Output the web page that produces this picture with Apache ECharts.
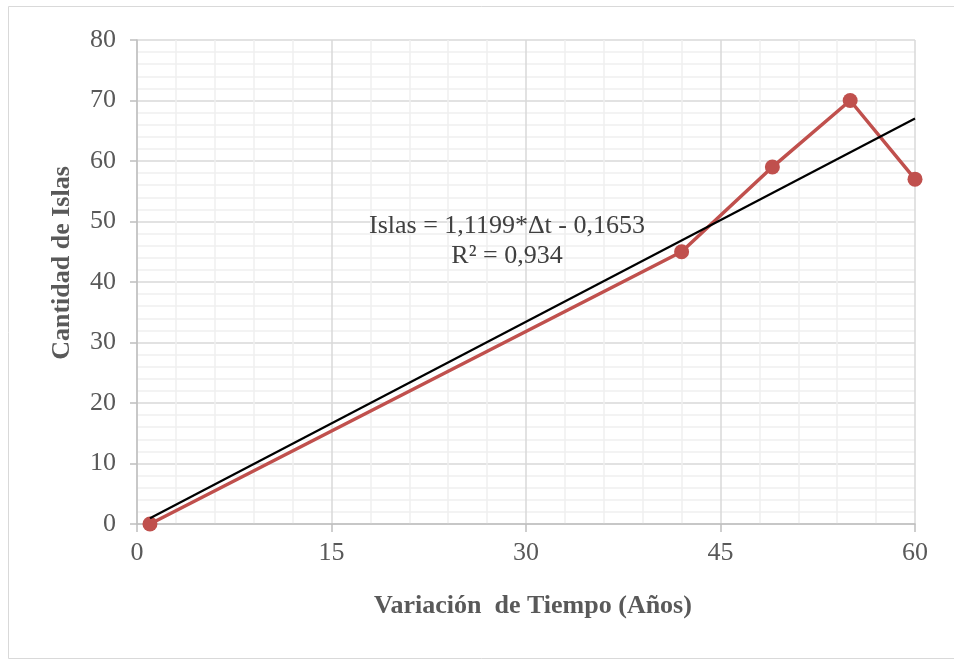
<!DOCTYPE html>
<html>
<head>
<meta charset="utf-8">
<script src="https://cdn.jsdelivr.net/npm/echarts@6/dist/echarts.min.js"></script>
<style>
html,body{margin:0;padding:0;background:#fff;}
#c{width:954px;height:663px;}
</style>
</head>
<body>
<div id="c"></div>
<script>
// Data
var years = [1, 42, 49, 55, 60];
var islands = [0, 45, 59, 70, 57];
var trendX = [1, 60];
var trendY = [0.95, 67.03];
var xTicks = [0, 15, 30, 45, 60];
var yTicks = [0, 10, 20, 30, 40, 50, 60, 70, 80];
var xTitle = 'Variación  de Tiempo (Años)';
var yTitle = 'Cantidad de Islas';
var eqLine1 = 'Islas = 1,1199*Δt - 0,1653';
var eqLine2 = 'R² = 0,934';

var font = '"Liberation Serif","Times New Roman",serif';
var chart = echarts.init(document.getElementById('c'));
var mainPts = years.map(function(x, i){ return [x, islands[i]]; });
var trendPts = trendX.map(function(x, i){ return [x, trendY[i]]; });

chart.setOption({
  animation: false,
  backgroundColor: '#fff',
  grid: {left: 137, right: 39, top: 40, bottom: 139, containLabel: false},
  xAxis: {
    type: 'value', min: xTicks[0], max: xTicks[xTicks.length-1], interval: 15,
    axisLine: {show: true, lineStyle: {color: '#bfbfbf', width: 1.5}},
    axisTick: {show: true, length: 8, lineStyle: {color: '#bfbfbf', width: 1.5}},
    axisLabel: {fontFamily: font, fontSize: 26, color: '#595959', margin: 16},
    splitLine: {show: true, lineStyle: {color: '#d9d9d9', width: 1.5}},
    minorTick: {show: false, splitNumber: 5},
    minorSplitLine: {show: true, lineStyle: {color: '#f0f0f0', width: 1.5}}
  },
  yAxis: {
    type: 'value', min: yTicks[0], max: yTicks[yTicks.length-1], interval: 10,
    axisLine: {show: true, lineStyle: {color: '#bfbfbf', width: 1.5}},
    axisTick: {show: true, length: 7, lineStyle: {color: '#bfbfbf', width: 1.5}},
    axisLabel: {fontFamily: font, fontSize: 26, color: '#595959', margin: 21},
    splitLine: {show: true, lineStyle: {color: '#d9d9d9', width: 1.5}},
    minorTick: {show: false, splitNumber: 5},
    minorSplitLine: {show: true, lineStyle: {color: '#f0f0f0', width: 1.5}}
  },
  series: [
    {
      type: 'line', data: mainPts, symbol: 'circle', symbolSize: 15,
      lineStyle: {color: '#C0504D', width: 3.5},
      itemStyle: {color: '#C0504D'}, z: 3
    },
    {
      type: 'line', data: trendPts, symbol: 'none',
      lineStyle: {color: '#000000', width: 2.2}, z: 4
    }
  ],
  graphic: [
    {type: 'rect', shape: {x: 8.5, y: 6.5, width: 960, height: 652}, style: {fill: 'none', stroke: '#d9d9d9', lineWidth: 1}, silent: true},
    {type: 'text', style: {text: eqLine1, x: 507, y: 226, textAlign: 'center', textVerticalAlign: 'middle', font: '26px ' + font, fill: '#404040'}, z: 10},
    {type: 'text', style: {text: eqLine2, x: 507, y: 256, textAlign: 'center', textVerticalAlign: 'middle', font: '26px ' + font, fill: '#404040'}, z: 10},
    {type: 'text', style: {text: xTitle, x: 533, y: 606, textAlign: 'center', textVerticalAlign: 'middle', font: 'bold 26px ' + font, fill: '#595959'}, z: 10},
    {type: 'text', x: 62, y: 263, rotation: Math.PI / 2, style: {text: yTitle, x: 0, y: 0, textAlign: 'center', textVerticalAlign: 'middle', font: 'bold 26px ' + font, fill: '#595959'}, z: 10}
  ]
});
</script>
</body>
</html>
